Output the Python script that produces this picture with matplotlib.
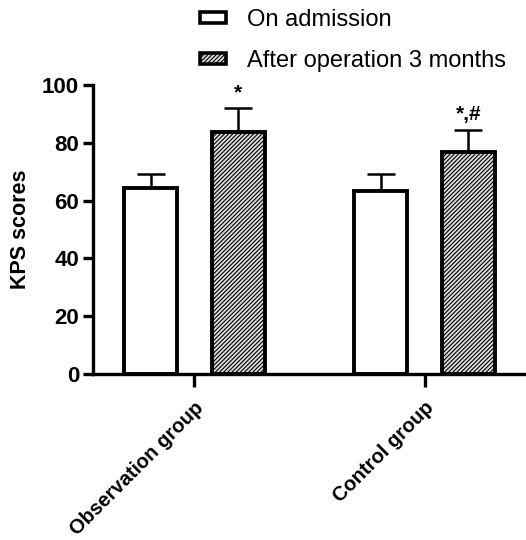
import matplotlib
matplotlib.use("Agg")
import matplotlib.pyplot as plt
import matplotlib.patches as mpatches
import numpy as np

plt.rcParams["font.family"] = ["Liberation Sans", "DejaVu Sans"]
plt.rcParams["hatch.color"] = "#3a3a3a"
plt.rcParams["hatch.linewidth"] = 0.8

groups = ["Observation group", "Control group"]
series = ["On admission", "After operation 3 months"]
admission = [64.4, 63.3]
admission_sd = [4.7, 5.8]
after_op = [83.6, 76.7]
after_op_sd = [8.3, 7.7]
marks = ["*", "*,#"]

fig = plt.figure(figsize=(5.26, 5.4), dpi=100)
ax = fig.add_axes([0.177, 0.307, 0.823, 0.536])

x = np.arange(len(groups))
w = 0.23
off = 0.19
lw = 2.8

ax.bar(x - off, admission, w, color="white", edgecolor="black", linewidth=lw, zorder=2)
ax.bar(x + off, after_op, w, color="#dcdcdc", edgecolor="black", linewidth=lw,
       hatch="////////", zorder=2)
ax.errorbar(x - off, admission, yerr=[np.zeros(2), admission_sd], fmt="none",
            ecolor="black", elinewidth=1.8, capsize=10, capthick=1.8, zorder=1)
ax.errorbar(x + off, after_op, yerr=[np.zeros(2), after_op_sd], fmt="none",
            ecolor="black", elinewidth=1.8, capsize=10, capthick=1.8, zorder=1)

for xi, v, e, m in zip(x + off, after_op, after_op_sd, marks):
    ax.text(xi, v + e + 2.0, m, ha="center", va="bottom", fontsize=15, fontweight="bold")

ax.set_xlim(-0.44, 1.44)
ax.set_ylim(0, 100)
ax.set_yticks([0, 20, 40, 60, 80, 100])
ax.set_xticks(x)
ax.set_xticklabels(groups, rotation=45, ha="right", rotation_mode="anchor",
                   fontsize=14.5, fontweight="bold")
for lab in ax.get_yticklabels():
    lab.set_fontweight("bold")
    lab.set_fontsize(16)
ax.tick_params(axis="y", width=2.4, length=7, pad=3)
ax.tick_params(axis="x", width=2.4, length=9, pad=8)
ax.set_ylabel("KPS scores", fontsize=15.5, fontweight="bold", labelpad=8)

ax.spines["top"].set_visible(False)
ax.spines["right"].set_visible(False)
ax.spines["left"].set_linewidth(2.4)
ax.spines["bottom"].set_linewidth(2.4)

handles = [
    mpatches.Patch(facecolor="white", edgecolor="black", linewidth=2.6, label=series[0]),
    mpatches.Patch(facecolor="#dcdcdc", edgecolor="black", linewidth=2.6, hatch="////////",
                   label=series[1]),
]
fig.legend(handles=handles, loc="upper left", bbox_to_anchor=(0.34, 1.022),
           frameon=False, fontsize=17, handlelength=1.1, handleheight=0.35,
           handletextpad=0.9, labelspacing=0.8)

fig.savefig("out.png", dpi=100)
